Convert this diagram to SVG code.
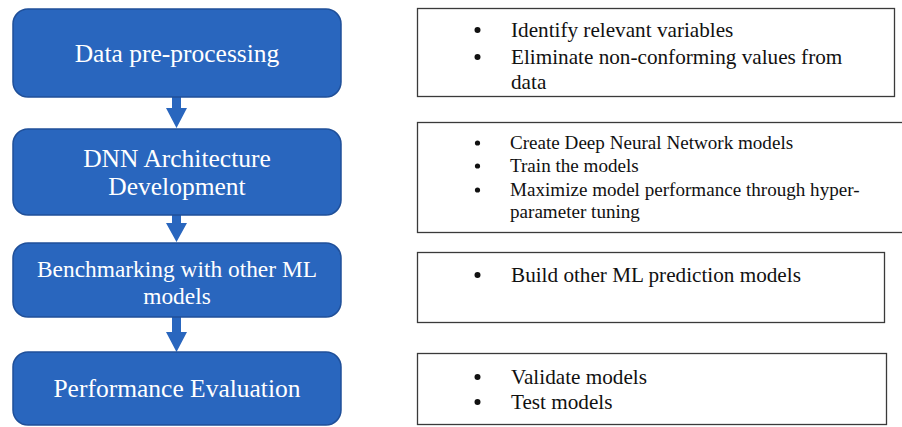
<svg xmlns="http://www.w3.org/2000/svg" width="902" height="427" viewBox="0 0 902 427">
<defs>
<style>
.step rect{fill:#2966BE;stroke:#1F4F99;stroke-width:1.5}
.step text{fill:#fff;font-family:"Liberation Serif","Times New Roman",serif;font-size:25.5px;text-anchor:middle}
.step .md{font-size:23.4px}
.note rect{fill:#fff;stroke:#3a3a3a;stroke-width:1.3}
.note text{fill:#111;font-family:"Liberation Serif","Times New Roman",serif;font-size:21.2px}
.note .sm{font-size:19.1px}
.note circle{fill:#111}
.arrow{fill:#2966BE;stroke:none}
</style>
</defs>
<rect width="902" height="427" fill="#fff"/>
<g id="connectors">
<path class="arrow" d="M172,97 H181 V108 H187 L176.5,128 L166,108 H172 Z"/>
<path class="arrow" d="M172,215 H181 V223 H187 L176.5,242 L166,223 H172 Z"/>
<path class="arrow" d="M172,317 H181 V332 H187 L176.5,352 L166,332 H172 Z"/>
</g>
<g id="step1" class="step">
<rect x="13" y="9" width="328" height="88" rx="15"/>
<text x="177" y="62">Data pre-processing</text>
</g>
<g id="step2" class="step">
<rect x="13" y="129" width="328" height="86" rx="15"/>
<text x="177" y="167">DNN Architecture</text>
<text x="177" y="195">Development</text>
</g>
<g id="step3" class="step">
<rect x="13" y="243" width="328" height="74" rx="15"/>
<text class="md" x="177" y="277">Benchmarking with other ML</text>
<text class="md" x="177" y="304">models</text>
</g>
<g id="step4" class="step">
<rect x="13" y="352" width="328" height="73" rx="15"/>
<text x="177" y="397">Performance Evaluation</text>
</g>
<g id="note1" class="note">
<rect x="417.5" y="8.5" width="477" height="88"/>
<circle cx="477.5" cy="30" r="3"/>
<circle cx="477.5" cy="57" r="3"/>
<text x="511" y="37">Identify relevant variables</text>
<text x="511" y="64">Eliminate non-conforming values from</text>
<text x="511" y="89">data</text>
</g>
<g id="note2" class="note">
<rect x="417.5" y="122.5" width="486" height="110"/>
<circle cx="477.5" cy="143" r="2.6"/>
<circle cx="477.5" cy="166" r="2.6"/>
<circle cx="477.5" cy="190" r="2.6"/>
<text class="sm" x="510" y="149">Create Deep Neural Network models</text>
<text class="sm" x="510" y="172">Train the models</text>
<text class="sm" x="510" y="196">Maximize model performance through hyper-</text>
<text class="sm" x="510" y="218">parameter tuning</text>
</g>
<g id="note3" class="note">
<rect x="417.5" y="252.5" width="467" height="70"/>
<circle cx="477.5" cy="275" r="3"/>
<text x="511" y="282">Build other ML prediction models</text>
</g>
<g id="note4" class="note">
<rect x="417.5" y="353.5" width="469" height="71"/>
<circle cx="477.5" cy="377" r="3"/>
<circle cx="477.5" cy="402" r="3"/>
<text x="511" y="384">Validate models</text>
<text x="511" y="409">Test models</text>
</g>
</svg>
